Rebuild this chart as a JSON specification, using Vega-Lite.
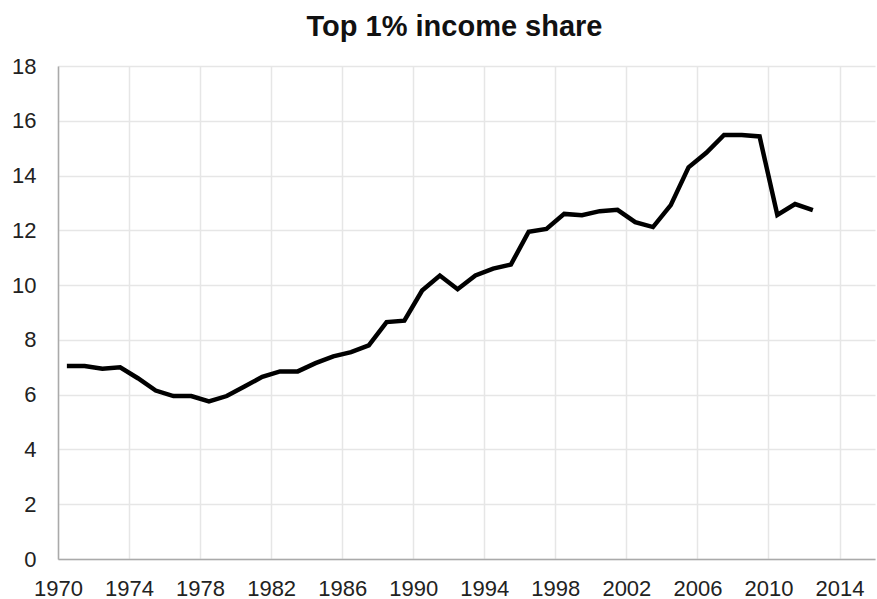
{
  "$schema": "https://vega.github.io/schema/vega-lite/v6.json",
  "width": 817,
  "height": 493,
  "autosize": "none",
  "padding": {"left": 58, "top": 66, "right": 2, "bottom": 40},
  "background": "white",
  "title": {
    "text": "Top 1% income share",
    "font": "Liberation Sans",
    "fontSize": 29,
    "fontWeight": "bold",
    "color": "#111111",
    "anchor": "middle",
    "dx": -12,
    "offset": 13
  },
  "data": {
    "values": [
      {"year": "1970", "share": 7.05},
      {"year": "1971", "share": 7.05},
      {"year": "1972", "share": 6.95},
      {"year": "1973", "share": 7.0},
      {"year": "1974", "share": 6.6},
      {"year": "1975", "share": 6.15},
      {"year": "1976", "share": 5.95},
      {"year": "1977", "share": 5.95},
      {"year": "1978", "share": 5.75},
      {"year": "1979", "share": 5.95},
      {"year": "1980", "share": 6.3},
      {"year": "1981", "share": 6.65},
      {"year": "1982", "share": 6.85},
      {"year": "1983", "share": 6.85},
      {"year": "1984", "share": 7.15},
      {"year": "1985", "share": 7.4},
      {"year": "1986", "share": 7.55},
      {"year": "1987", "share": 7.8},
      {"year": "1988", "share": 8.65},
      {"year": "1989", "share": 8.7},
      {"year": "1990", "share": 9.8},
      {"year": "1991", "share": 10.35},
      {"year": "1992", "share": 9.85},
      {"year": "1993", "share": 10.35},
      {"year": "1994", "share": 10.6},
      {"year": "1995", "share": 10.75},
      {"year": "1996", "share": 11.95},
      {"year": "1997", "share": 12.05},
      {"year": "1998", "share": 12.6},
      {"year": "1999", "share": 12.55},
      {"year": "2000", "share": 12.7},
      {"year": "2001", "share": 12.75},
      {"year": "2002", "share": 12.3},
      {"year": "2003", "share": 12.12},
      {"year": "2004", "share": 12.92},
      {"year": "2005", "share": 14.3},
      {"year": "2006", "share": 14.83},
      {"year": "2007", "share": 15.48},
      {"year": "2008", "share": 15.48},
      {"year": "2009", "share": 15.43},
      {"year": "2010", "share": 12.56},
      {"year": "2011", "share": 12.96},
      {"year": "2012", "share": 12.74}
    ]
  },
  "mark": {"type": "line", "color": "#000000", "strokeWidth": 4.5, "strokeJoin": "miter", "strokeCap": "butt"},
  "encoding": {
    "x": {
      "field": "year",
      "type": "temporal",
      "timeUnit": "utcyear",
      "bandPosition": 0.5,
      "scale": {"domain": [{"year": 1970, "utc": true}, {"year": 2016, "utc": true}]},
      "axis": {
        "title": null,
        "values": [{"year": 1970, "utc": true}, {"year": 1974, "utc": true}, {"year": 1978, "utc": true}, {"year": 1982, "utc": true}, {"year": 1986, "utc": true}, {"year": 1990, "utc": true}, {"year": 1994, "utc": true}, {"year": 1998, "utc": true}, {"year": 2002, "utc": true}, {"year": 2006, "utc": true}, {"year": 2010, "utc": true}, {"year": 2014, "utc": true}],
        "format": "%Y",
        "formatType": "utc",
        "labelFont": "Liberation Sans",
        "labelFontSize": 22,
        "labelColor": "#222222",
        "labelPadding": 19,
        "labelFlush": false,
        "labelOverlap": false,
        "ticks": false,
        "domainColor": "#aaaaaa",
        "domainWidth": 1.5,
        "grid": true,
        "gridColor": "#e6e6e6",
        "gridWidth": 1.5
      }
    },
    "y": {
      "field": "share",
      "type": "quantitative",
      "scale": {"domain": [0, 18], "nice": false, "zero": true},
      "axis": {
        "title": null,
        "values": [0, 2, 4, 6, 8, 10, 12, 14, 16, 18],
        "labelFont": "Liberation Sans",
        "labelFontSize": 22,
        "labelColor": "#222222",
        "labelPadding": 22,
        "ticks": false,
        "domainColor": "#aaaaaa",
        "domainWidth": 1.5,
        "grid": true,
        "gridColor": "#e6e6e6",
        "gridWidth": 1.5
      }
    }
  },
  "config": {"view": {"stroke": null}}
}
